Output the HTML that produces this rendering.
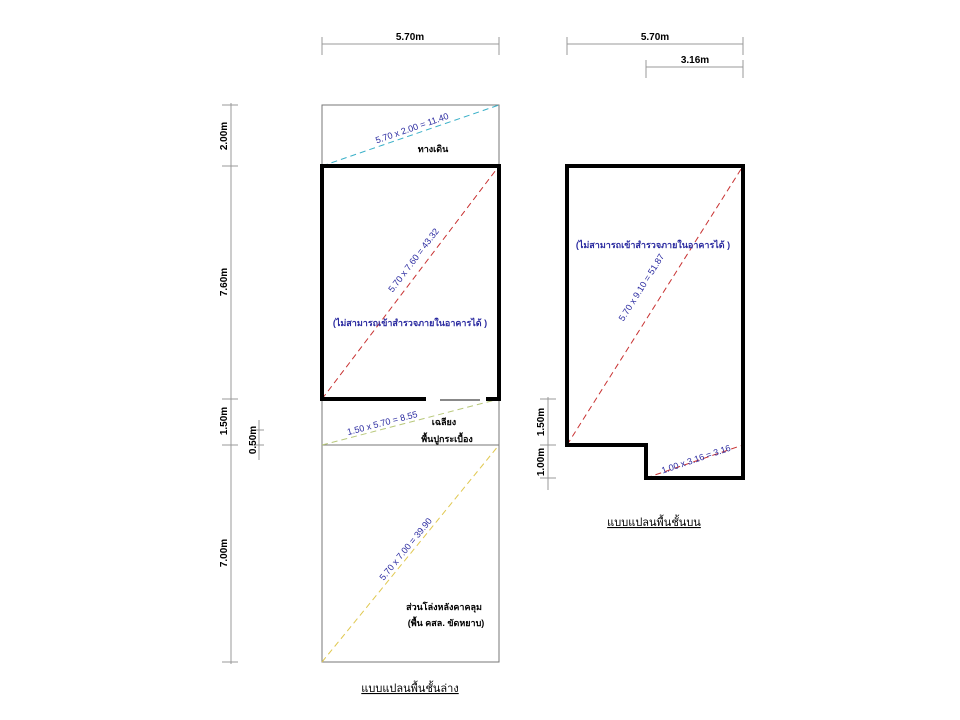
<!DOCTYPE html>
<html><head><meta charset="utf-8"><style>
html,body{margin:0;padding:0;background:#fff;}
svg{display:block;}
text{font-family:"Liberation Sans","Noto Sans CJK SC",sans-serif;}
</style></head><body>
<svg width="960" height="720" viewBox="0 0 960 720" xmlns="http://www.w3.org/2000/svg">
<g stroke="#999" stroke-width="1" fill="none">
<line x1="322" y1="44" x2="499" y2="44"/>
<line x1="322" y1="37" x2="322" y2="55"/><line x1="499" y1="37" x2="499" y2="55"/>
<line x1="567" y1="44" x2="743" y2="44"/>
<line x1="567" y1="37" x2="567" y2="55"/><line x1="743" y1="37" x2="743" y2="55"/>
<line x1="646" y1="67" x2="743" y2="67"/>
<line x1="646" y1="60" x2="646" y2="78"/><line x1="743" y1="60" x2="743" y2="78"/>
<line x1="231" y1="103" x2="231" y2="664"/>
<line x1="222" y1="105" x2="238" y2="105"/><line x1="222" y1="166" x2="238" y2="166"/>
<line x1="222" y1="399" x2="238" y2="399"/><line x1="222" y1="445" x2="238" y2="445"/>
<line x1="222" y1="662" x2="238" y2="662"/>
<line x1="259" y1="420" x2="259" y2="460"/>
<line x1="252" y1="430" x2="264" y2="430"/><line x1="252" y1="445" x2="264" y2="445"/>
<line x1="548" y1="397" x2="548" y2="490"/>
<line x1="540" y1="399" x2="556" y2="399"/><line x1="540" y1="445" x2="556" y2="445"/>
<line x1="540" y1="478" x2="556" y2="478"/>
<rect x="322" y="105" width="177" height="557" stroke="#777"/>
<line x1="322" y1="445" x2="499" y2="445" stroke="#777"/>
</g>
<g fill="none" stroke-width="1" stroke-dasharray="6,4">
<line x1="322" y1="166" x2="499" y2="105" stroke="#3ab0c8"/>
<line x1="322" y1="399" x2="499" y2="166" stroke="#c83232"/>
<line x1="322" y1="445" x2="499" y2="399" stroke="#b8c87a"/>
<line x1="322" y1="662" x2="499" y2="445" stroke="#e0c850"/>
<line x1="567" y1="445" x2="743" y2="166" stroke="#c83232"/>
<line x1="646" y1="478" x2="743" y2="445" stroke="#c83232"/>
</g>
<g fill="none" stroke="#000" stroke-width="4">
<polyline points="426,399 322,399 322,166 499,166 499,399 486,399"/>
<polygon points="567,166 743,166 743,478 646,478 646,445 567,445"/>
</g>
<g stroke="#888" stroke-width="2"><line x1="440" y1="400" x2="480" y2="400"/></g>
<g fill="#000" font-weight="bold" font-size="10" text-anchor="middle">
<text x="410" y="40">5.70m</text>
<text x="655" y="40">5.70m</text>
<text x="695" y="63">3.16m</text>
<text transform="translate(227,136) rotate(-90)">2.00m</text>
<text transform="translate(227,282) rotate(-90)">7.60m</text>
<text transform="translate(227,421) rotate(-90)">1.50m</text>
<text transform="translate(256,440) rotate(-90)">0.50m</text>
<text transform="translate(227,553) rotate(-90)">7.00m</text>
<text transform="translate(544,422) rotate(-90)">1.50m</text>
<text transform="translate(544,462) rotate(-90)">1.00m</text>
</g>
<g fill="#000" font-size="9" font-weight="bold" text-anchor="middle">
<text x="433" y="152">ทางเดิน</text>
<text x="444" y="425">เฉลียง</text>
<text x="447" y="442">พื้นปูกระเบื้อง</text>
<text x="444" y="610">ส่วนโล่งหลังคาคลุม</text>
<text x="446" y="626">(พื้น คสล. ขัดหยาบ)</text>
</g>
<g fill="#000" font-size="11" text-anchor="middle" text-decoration="underline">
<text x="410" y="692">แบบแปลนพื้นชั้นล่าง</text>
<text x="654" y="526">แบบแปลนพื้นชั้นบน</text>
</g>
<g fill="#2a2aa0" font-size="9" text-anchor="middle">
<text transform="translate(413,131) rotate(-19)">5.70 x 2.00 = 11.40</text>
<text transform="translate(416,262) rotate(-52.8)">5.70 x 7.60 = 43.32</text>
<text transform="translate(383,426) rotate(-14.6)">1.50 x 5.70 = 8.55</text>
<text transform="translate(408,551) rotate(-50.8)">5.70 x 7.00 = 39.90</text>
<text transform="translate(644,289) rotate(-57.8)">5.70 x 9.10 = 51.87</text>
<text transform="translate(697,462) rotate(-18.8)">1.00 x 3.16 = 3.16</text>
<text x="410" y="326" font-size="9" font-weight="bold">(ไม่สามารถเข้าสำรวจภายในอาคารได้ )</text>
<text x="653" y="248" font-size="9" font-weight="bold">(ไม่สามารถเข้าสำรวจภายในอาคารได้ )</text>
</g>
</svg>
</body></html>
